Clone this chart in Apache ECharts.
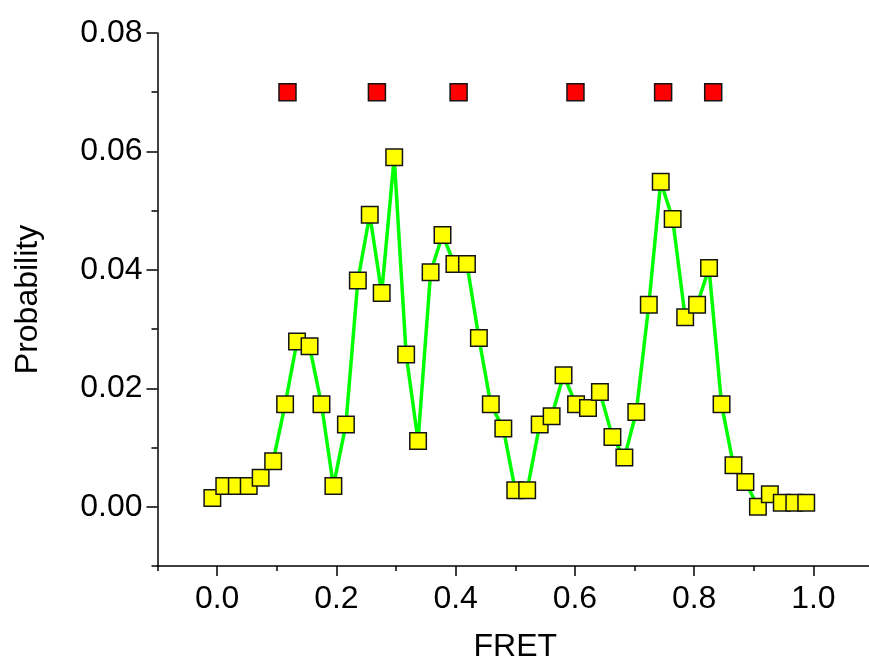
<!DOCTYPE html>
<html>
<head>
<meta charset="utf-8">
<title>FRET histogram</title>
<script src="https://cdn.jsdelivr.net/npm/echarts@6/dist/echarts.min.js"></script>
<style>
  html, body { margin: 0; padding: 0; background: #fff; overflow: hidden; }
  #chart { width: 869px; height: 662px; }
</style>
</head>
<body>
<div id="chart"></div>
<script>
// FRET efficiency bins and their probabilities
const fretValues = [
  -0.008, 0.012, 0.033, 0.053, 0.073, 0.094, 0.114, 0.134, 0.155, 0.175,
  0.195, 0.216, 0.236, 0.256, 0.276, 0.297, 0.317, 0.337, 0.358, 0.378,
  0.398, 0.419, 0.439, 0.459, 0.480, 0.500, 0.520, 0.541, 0.561, 0.581,
  0.602, 0.622, 0.642, 0.663, 0.683, 0.703, 0.724, 0.744, 0.764, 0.785,
  0.805, 0.825, 0.846, 0.866, 0.886, 0.907, 0.927, 0.947, 0.968, 0.988
];
const probabilities = [
  0.0015, 0.0035, 0.0035, 0.0035, 0.0049, 0.0077, 0.0173, 0.0279, 0.0271, 0.0173,
  0.0035, 0.0139, 0.0382, 0.0493, 0.0361, 0.0590, 0.0257, 0.0111, 0.0396, 0.0459,
  0.0410, 0.0410, 0.0285, 0.0173, 0.0132, 0.0028, 0.0028, 0.0139, 0.0153, 0.0222,
  0.0173, 0.0167, 0.0194, 0.0118, 0.0083, 0.0160, 0.0341, 0.0549, 0.0486, 0.0320,
  0.0341, 0.0403, 0.0173, 0.0070, 0.0042, 0.0000, 0.0021, 0.0007, 0.0007, 0.0007
];

// Peak markers drawn in a row above the histogram
const peakPositions = [0.118, 0.268, 0.405, 0.601, 0.748, 0.832];
const peakLevel = [0.07, 0.07, 0.07, 0.07, 0.07, 0.07];

// Axis ticks
const xMajorTicks = [0, 0.2, 0.4, 0.6, 0.8, 1.0];
const xMinorTicks = [-0.1, 0.1, 0.3, 0.5, 0.7, 0.9];
const yMajorTicks = [0, 0.02, 0.04, 0.06, 0.08];
const yMinorTicks = [-0.01, 0.01, 0.03, 0.05, 0.07];

const FONT = '"Liberation Sans", Arial, sans-serif';
const AXIS_COLOR = '#000';

const chart = echarts.init(document.getElementById('chart'), null, { renderer: 'canvas' });

const histData = fretValues.map((x, i) => [x, probabilities[i]]);
const peakData = peakPositions.map((x, i) => [x, peakLevel[i]]);

const xRange = { min: -0.1, max: 1.1 };
const yRange = { min: -0.01, max: 0.08 };

chart.setOption({
  animation: false,
  backgroundColor: '#fff',
  grid: { left: 157.5, top: 33, right: -4, bottom: 96, containLabel: false, outerBoundsMode: 'none' },
  xAxis: [
    {
      type: 'value', ...xRange, position: 'bottom',
      name: 'FRET', nameLocation: 'middle', nameGap: 65,
      nameTextStyle: { fontFamily: FONT, fontSize: 32, color: '#000' },
      axisLine: { show: true, onZero: false, lineStyle: { color: AXIS_COLOR, width: 1.5 } },
      axisTick: { show: true, inside: false, length: 10, customValues: xMajorTicks,
                  lineStyle: { color: AXIS_COLOR, width: 1.5 } },
      axisLabel: { show: true, customValues: xMajorTicks, margin: 17,
                   fontFamily: FONT, fontSize: 32, color: '#000',
                   formatter: v => v.toFixed(1) },
      splitLine: { show: false }
    },
    {
      type: 'value', ...xRange, position: 'bottom', offset: 0,
      axisLine: { show: false, onZero: false },
      axisTick: { show: true, inside: false, length: 5, customValues: xMinorTicks,
                  lineStyle: { color: AXIS_COLOR, width: 1.5 } },
      axisLabel: { show: false },
      splitLine: { show: false }
    }
  ],
  yAxis: [
    {
      type: 'value', ...yRange, position: 'left',
      name: 'Probability', nameLocation: 'middle', nameGap: 113, nameRotate: 90,
      nameTextStyle: { fontFamily: FONT, fontSize: 32, color: '#000' },
      axisLine: { show: true, onZero: false, lineStyle: { color: AXIS_COLOR, width: 1.5 } },
      axisTick: { show: true, inside: false, length: 11, customValues: yMajorTicks,
                  lineStyle: { color: AXIS_COLOR, width: 1.5 } },
      axisLabel: { show: true, customValues: yMajorTicks, margin: 15,
                   fontFamily: FONT, fontSize: 32, color: '#000',
                   formatter: v => v.toFixed(2) },
      splitLine: { show: false }
    },
    {
      type: 'value', ...yRange, position: 'left', offset: 0,
      axisLine: { show: false, onZero: false },
      axisTick: { show: true, inside: false, length: 6, customValues: yMinorTicks,
                  lineStyle: { color: AXIS_COLOR, width: 1.5 } },
      axisLabel: { show: false },
      splitLine: { show: false }
    }
  ],
  series: [
    {
      name: 'Histogram',
      type: 'line',
      xAxisIndex: 0, yAxisIndex: 0,
      data: histData,
      lineStyle: { color: '#00ff00', width: 3.5 },
      symbol: 'rect',
      symbolSize: 16.5,
      showAllSymbol: true,
      itemStyle: { color: '#ffff00', borderColor: '#141414', borderWidth: 1.5, opacity: 1 },
      clip: false,
      z: 3
    },
    {
      name: 'Peaks',
      type: 'scatter',
      xAxisIndex: 0, yAxisIndex: 0,
      data: peakData,
      symbol: 'rect',
      symbolSize: 17,
      itemStyle: { color: '#ff0000', borderColor: '#141414', borderWidth: 1.5, opacity: 1 },
      z: 4
    }
  ]
});
</script>
</body>
</html>
